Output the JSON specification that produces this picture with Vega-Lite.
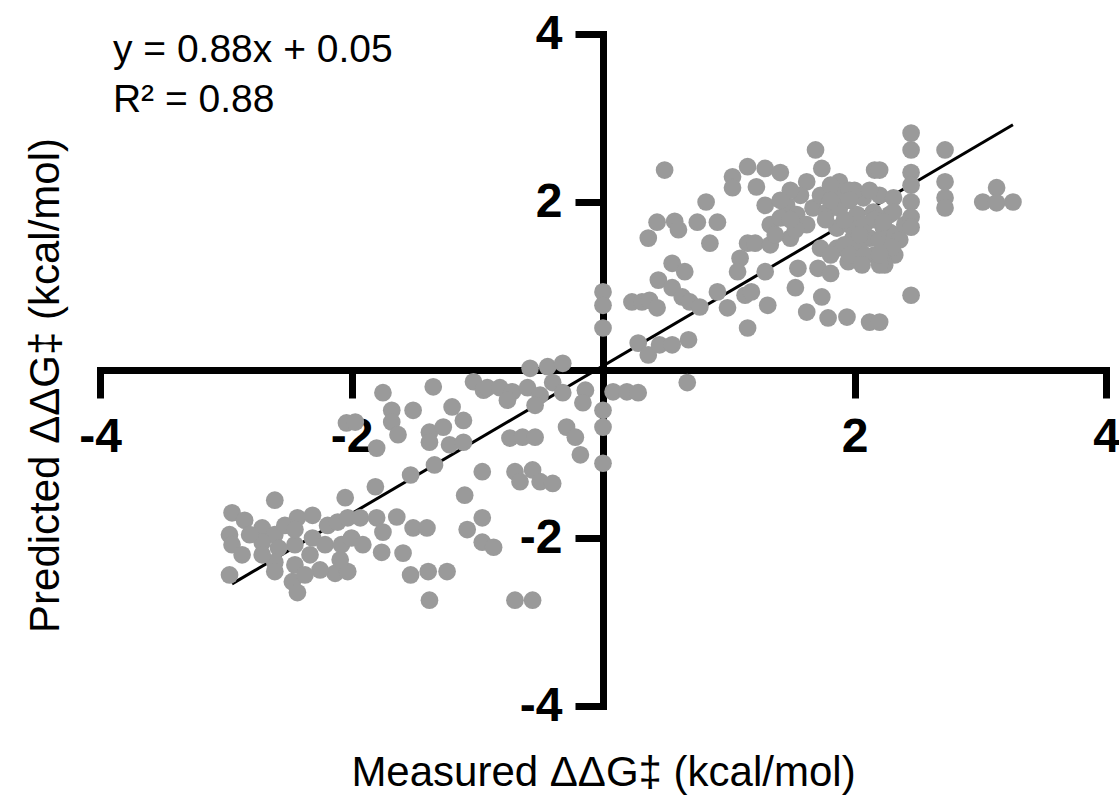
{
"$schema":"https://vega.github.io/schema/vega-lite/v6.json",
"width":1006,"height":672,
"autosize":{"type":"none"},
"padding":{"left":100,"top":34,"right":13,"bottom":92},
"background":"white",
"config":{"view":{"stroke":null},"font":"Liberation Sans"},
"datasets":{
"fit":[{"x":-2.95,"y":-2.546},{"x":3.26,"y":2.919}],
"points":[
{"x":0.49,"y":2.38},{"x":1.15,"y":2.42},{"x":1.03,"y":2.30},{"x":1.03,"y":2.17},{"x":0.82,"y":2.00},{"x":0.43,"y":1.76},{"x":0.57,"y":1.77},{"x":0.75,"y":1.76},{"x":0.91,"y":1.76},{"x":0.60,"y":1.67},{"x":0.36,"y":1.57},{"x":0.85,"y":1.51},{"x":1.15,"y":1.51},{"x":0.55,"y":1.27},{"x":0.65,"y":1.17},{"x":1.09,"y":1.33},{"x":1.07,"y":1.17},{"x":0.44,"y":1.07},{"x":0.55,"y":0.98},{"x":0.63,"y":0.87},{"x":0.69,"y":0.81},{"x":0.77,"y":0.75},{"x":0.91,"y":0.93},{"x":0.99,"y":0.74},{"x":1.13,"y":0.89},{"x":0.0,"y":0.93},{"x":0.0,"y":0.77},{"x":0.23,"y":0.81},{"x":0.31,"y":0.81},{"x":0.37,"y":0.83},{"x":0.43,"y":0.74},{"x":0.0,"y":0.50},{"x":0.28,"y":0.32},{"x":0.36,"y":0.18},{"x":0.45,"y":0.30},{"x":0.55,"y":0.30},{"x":0.68,"y":0.36},{"x":1.15,"y":0.50},{"x":0.67,"y":-0.15},{"x":0.08,"y":-0.26},{"x":0.19,"y":-0.26},{"x":0.28,"y":-0.27},
{"x":1.69,"y":2.62},{"x":2.16,"y":2.38},{"x":1.29,"y":2.40},{"x":1.41,"y":2.35},{"x":1.74,"y":2.40},{"x":1.88,"y":2.24},{"x":1.62,"y":2.24},{"x":1.22,"y":2.18},{"x":1.29,"y":1.96},{"x":1.46,"y":1.96},{"x":1.33,"y":1.73},{"x":1.21,"y":1.51},{"x":1.33,"y":1.49},{"x":1.29,"y":1.17},{"x":1.18,"y":0.93},{"x":1.31,"y":0.77},{"x":1.53,"y":0.98},{"x":1.55,"y":1.21},{"x":1.71,"y":1.21},{"x":1.81,"y":1.15},{"x":1.74,"y":0.87},{"x":1.62,"y":0.69},{"x":1.79,"y":0.62},{"x":1.94,"y":0.63},{"x":2.12,"y":0.57},{"x":1.95,"y":1.29},{"x":2.16,"y":1.37},{"x":1.49,"y":1.57},{"x":1.41,"y":1.81},{"x":1.54,"y":1.85},{"x":1.67,"y":1.93},{"x":1.78,"y":1.88},{"x":1.88,"y":1.93},{"x":2.02,"y":1.85},{"x":2.15,"y":1.88},{"x":2.20,"y":2.08},{"x":2.07,"y":2.05},{"x":1.57,"y":2.08},{"x":1.73,"y":2.08},{"x":1.86,"y":2.08},{"x":1.86,"y":1.69},{"x":1.99,"y":1.57},{"x":2.12,"y":1.57},{"x":2.23,"y":1.69},{"x":1.73,"y":1.45},{"x":1.86,"y":1.45},{"x":1.62,"y":1.73},{"x":1.96,"y":1.73},{"x":2.08,"y":1.73},{"x":1.81,"y":2.20},{"x":2.00,"y":2.14},{"x":1.53,"y":1.67},{"x":1.92,"y":1.49},{"x":2.04,"y":1.43},{"x":2.20,"y":1.55},{"x":2.28,"y":1.85},{"x":2.28,"y":1.64},{"x":1.81,"y":1.37},
{"x":1.49,"y":2.14},{"x":1.96,"y":2.14},{"x":2.12,"y":2.14},{"x":1.41,"y":2.02},{"x":1.81,"y":2.02},{"x":1.96,"y":2.02},{"x":1.49,"y":1.79},{"x":1.77,"y":1.79},{"x":1.92,"y":1.79},{"x":2.16,"y":1.79},{"x":1.37,"y":1.61},{"x":2.04,"y":1.61},{"x":2.32,"y":1.61},{"x":1.96,"y":1.37},{"x":2.08,"y":1.37},{"x":2.32,"y":1.37},{"x":2.06,"y":1.25},{"x":2.24,"y":1.25},{"x":2.36,"y":1.55},{"x":2.40,"y":1.73},{"x":2.20,"y":1.25},
{"x":2.45,"y":2.82},{"x":2.45,"y":2.62},{"x":2.72,"y":2.62},{"x":2.20,"y":2.38},{"x":2.45,"y":2.35},{"x":2.45,"y":2.20},{"x":2.72,"y":2.24},{"x":2.72,"y":2.05},{"x":2.72,"y":1.93},{"x":3.13,"y":2.17},{"x":3.02,"y":2.00},{"x":3.13,"y":1.99},{"x":3.26,"y":2.00},{"x":2.45,"y":2.00},{"x":2.45,"y":1.82},{"x":2.45,"y":1.70},{"x":2.31,"y":2.05},{"x":2.31,"y":1.88},{"x":2.23,"y":1.76},{"x":2.30,"y":1.46},{"x":2.20,"y":1.37},{"x":2.45,"y":0.89},{"x":2.20,"y":0.57},
{"x":-2.04,"y":-0.63},{"x":-1.97,"y":-0.62},{"x":-2.61,"y":-1.55},{"x":-2.05,"y":-1.52},{"x":-2.95,"y":-1.70},{"x":-2.85,"y":-1.79},{"x":-2.71,"y":-1.88},{"x":-2.97,"y":-1.96},{"x":-2.95,"y":-2.08},{"x":-2.87,"y":-2.20},{"x":-2.97,"y":-2.44},{"x":-2.43,"y":-1.76},{"x":-2.31,"y":-1.73},{"x":-2.45,"y":-2.08},{"x":-2.31,"y":-2.00},{"x":-2.19,"y":-1.85},{"x":-2.11,"y":-1.81},{"x":-2.03,"y":-1.76},{"x":-2.21,"y":-2.08},{"x":-2.08,"y":-2.08},{"x":-2.00,"y":-2.00},{"x":-2.61,"y":-1.96},{"x":-2.58,"y":-2.12},{"x":-2.61,"y":-2.29},{"x":-2.61,"y":-2.40},{"x":-2.45,"y":-2.32},{"x":-2.47,"y":-2.52},{"x":-2.43,"y":-2.65},{"x":-2.13,"y":-2.42},{"x":-2.03,"y":-2.40},{"x":-2.71,"y":-2.05},{"x":-2.71,"y":-2.20},
{"x":-2.81,"y":-1.96},{"x":-2.53,"y":-1.85},{"x":-2.33,"y":-2.20},{"x":-2.45,"y":-1.90},{"x":-2.09,"y":-2.26},{"x":-2.25,"y":-2.38},{"x":-2.37,"y":-2.44},
{"x":-1.75,"y":-0.27},{"x":-1.35,"y":-0.20},{"x":-1.03,"y":-0.14},{"x":-0.95,"y":-0.24},{"x":-1.68,"y":-0.48},{"x":-1.51,"y":-0.48},{"x":-1.20,"y":-0.44},{"x":-1.68,"y":-0.62},{"x":-1.63,"y":-0.77},{"x":-1.80,"y":-0.93},{"x":-1.38,"y":-0.74},{"x":-1.27,"y":-0.68},{"x":-1.11,"y":-0.60},{"x":-1.38,"y":-0.86},{"x":-1.22,"y":-0.89},{"x":-1.11,"y":-0.86},{"x":-1.34,"y":-1.13},{"x":-1.53,"y":-1.25},{"x":-1.81,"y":-1.39},{"x":-1.10,"y":-1.49},{"x":-0.96,"y":-1.21},{"x":-1.93,"y":-1.76},{"x":-1.80,"y":-1.76},{"x":-1.64,"y":-1.75},{"x":-1.75,"y":-1.93},{"x":-1.91,"y":-2.08},{"x":-1.76,"y":-2.17},{"x":-1.51,"y":-1.88},{"x":-1.40,"y":-1.88},{"x":-1.59,"y":-2.18},{"x":-1.53,"y":-2.44},{"x":-1.39,"y":-2.40},{"x":-1.24,"y":-2.40},{"x":-1.38,"y":-2.74},{"x":-1.08,"y":-1.90},{"x":-0.96,"y":-1.76},{"x":-0.96,"y":-2.05},
{"x":-0.58,"y":0.02},{"x":-0.44,"y":0.04},{"x":-0.32,"y":0.08},{"x":-0.92,"y":-0.21},{"x":-0.82,"y":-0.21},{"x":-0.72,"y":-0.26},{"x":-0.60,"y":-0.21},{"x":-0.50,"y":-0.30},{"x":-0.40,"y":-0.15},{"x":-0.32,"y":-0.27},{"x":-0.54,"y":-0.42},{"x":-0.76,"y":-0.36},{"x":-0.14,"y":-0.24},{"x":-0.16,"y":-0.39},{"x":0.0,"y":-0.48},{"x":0.0,"y":-0.68},{"x":0.0,"y":-1.11},{"x":-0.74,"y":-0.81},{"x":-0.64,"y":-0.80},{"x":-0.54,"y":-0.80},{"x":-0.29,"y":-0.68},{"x":-0.22,"y":-0.80},{"x":-0.18,"y":-1.01},{"x":-0.70,"y":-1.21},{"x":-0.56,"y":-1.19},{"x":-0.66,"y":-1.33},{"x":-0.50,"y":-1.33},{"x":-0.40,"y":-1.35},{"x":-0.87,"y":-2.11},{"x":-0.70,"y":-2.74},{"x":-0.56,"y":-2.74}
]},
"layer":[
{"data":{"name":"fit"},"mark":{"type":"line","color":"black","strokeWidth":3},
 "encoding":{
 "x":{"field":"x","type":"quantitative","title":"Measured ΔΔG‡ (kcal/mol)",
 "scale":{"domain":[-4,4],"nice":false,"zero":false},
 "axis":{"values":[-4,-2,2,4],"offset":-336,"grid":false,
  "labelExpr":"datum.value < 0 ? '-' + abs(datum.value) : '' + datum.value",
  "domainColor":"black","domainWidth":7,"domainCap":"square","tickColor":"black","tickWidth":7,"tickSize":28,
  "labelFont":"Liberation Sans","labelFontSize":48,"labelFontWeight":"bold","labelColor":"black","labelPadding":15,
  "labelFlush":false,"labelOverlap":false,"labelBound":false,
  "titleFont":"Liberation Sans","titleFontSize":42,"titleFontWeight":"normal","titleColor":"black",
  "titleY":415,"titleBaseline":"alphabetic","titleAlign":"center","titlePadding":0}},
 "y":{"field":"y","type":"quantitative","title":"Predicted ΔΔG‡ (kcal/mol)",
 "scale":{"domain":[-4,4],"nice":false,"zero":false},
 "axis":{"values":[-4,-2,2,4],"offset":-503,"grid":false,
  "labelExpr":"datum.value < 0 ? '-' + abs(datum.value) : '' + datum.value",
  "domainColor":"black","domainWidth":7,"domainCap":"square","tickColor":"black","tickWidth":7,"tickSize":28,
  "labelFont":"Liberation Sans","labelFontSize":48,"labelFontWeight":"bold","labelColor":"black","labelPadding":13,
  "labelFlush":false,"labelOverlap":false,"labelBound":false,
  "titleFont":"Liberation Sans","titleFontSize":42,"titleFontWeight":"normal","titleColor":"black",
  "titleX":-545,"titleY":351,"titleAngle":-90,"titleBaseline":"alphabetic","titleAlign":"center","titlePadding":0}}
 }},
{"data":{"name":"points"},"mark":{"type":"circle","size":314,"color":"#9a9a9a","opacity":1},
 "encoding":{"x":{"field":"x","type":"quantitative","title":"Measured ΔΔG‡ (kcal/mol)"},"y":{"field":"y","type":"quantitative","title":"Predicted ΔΔG‡ (kcal/mol)"}}},
{"data":{"values":[{"label":"y = 0.88x + 0.05"}]},
 "mark":{"type":"text","align":"left","baseline":"alphabetic","fontSize":39,"font":"Liberation Sans","color":"black"},
 "encoding":{"x":{"datum":-3.897,"type":"quantitative","title":"Measured ΔΔG‡ (kcal/mol)"},"y":{"datum":3.667,"type":"quantitative","title":"Predicted ΔΔG‡ (kcal/mol)"},"text":{"field":"label","type":"nominal"}}},
{"data":{"values":[{"label":"R² = 0.88"}]},
 "mark":{"type":"text","align":"left","baseline":"alphabetic","fontSize":39,"font":"Liberation Sans","color":"black"},
 "encoding":{"x":{"datum":-3.897,"type":"quantitative","title":"Measured ΔΔG‡ (kcal/mol)"},"y":{"datum":3.07,"type":"quantitative","title":"Predicted ΔΔG‡ (kcal/mol)"},"text":{"field":"label","type":"nominal"}}}
]
}
